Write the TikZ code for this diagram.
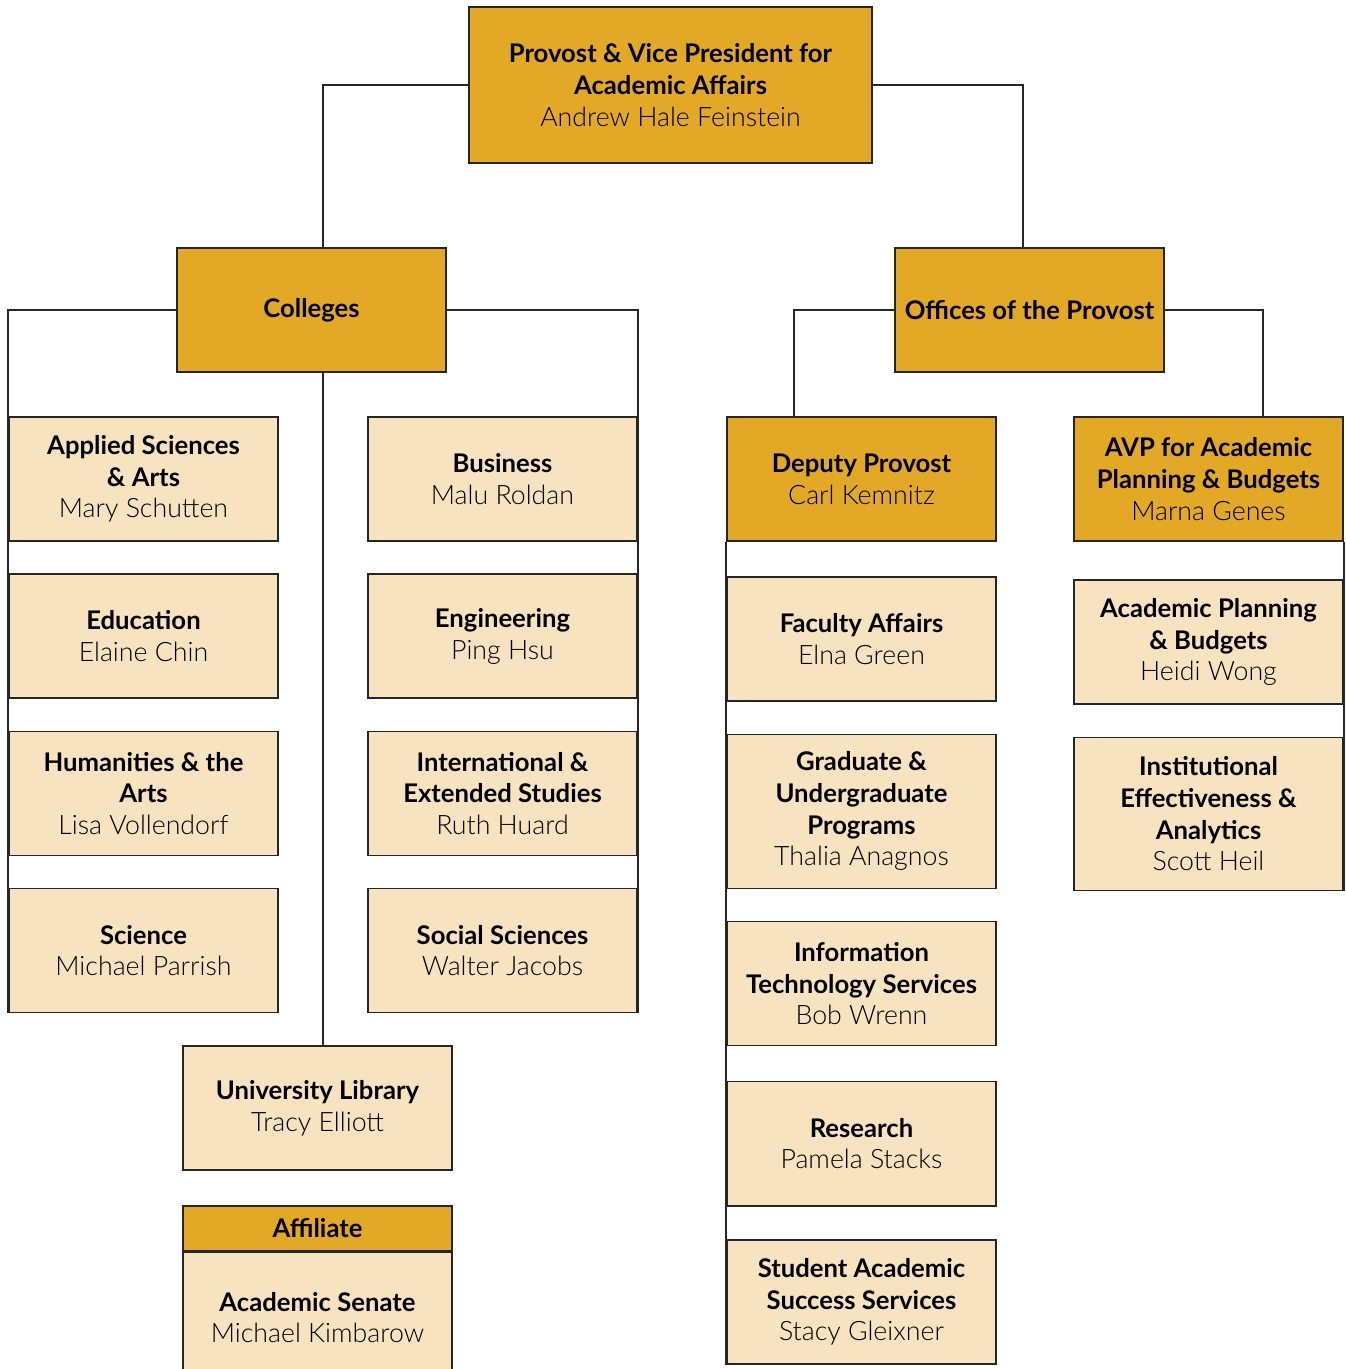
\documentclass[tikz,border=0pt]{standalone}
\usepackage{fontspec}
\setmainfont{Lato}
\newfontfamily\namefont{Lato Light}
\usepackage{xcolor}
\usetikzlibrary{positioning}

\definecolor{gold}{HTML}{E3A826}
\definecolor{cream}{HTML}{F7E3BF}
\newcommand{\person}[1]{{\mdseries\namefont\fontsize{7.6}{9}\selectfont #1}}

\begin{document}
\begin{tikzpicture}[
    x=0.01cm, y=-0.01cm,
    unit/.style={rectangle, draw=black!85, line width=0.45pt, minimum width=2.69cm, minimum height=1.24cm, inner sep=0pt, align=center, font=\fontsize{7.3}{9}\selectfont\bfseries},
    head/.style={unit, fill=gold},
    office/.style={unit, fill=cream},
    link/.style={draw=black!85, line width=0.45pt}
]
\useasboundingbox (0,0) rectangle (1346,1369);

% top of the chart
\node[head, minimum width=4.03cm, minimum height=1.56cm] (provost) at (670.5,85) {Provost \& Vice President for\\Academic Affairs\\\person{Andrew Hale Feinstein}};

\node[head] (colleges) at (311.5,310) {Colleges};
\node[head] (offices) at (1029.5,310) {Offices of the Provost};

% Colleges, left column
\node[office] (appsci) at (143.5,479) {Applied Sciences\\\& Arts\\\person{Mary Schutten}};
\node[office, below=0.315cm of appsci] (educ) {Education\\\person{Elaine Chin}};
\node[office, below=0.315cm of educ] (humart) {Humanities \& the\\Arts\\\person{Lisa Vollendorf}};
\node[office, below=0.315cm of humart] (science) {Science\\\person{Michael Parrish}};

% Colleges, right column
\node[office] (business) at (502.5,479) {Business\\\person{Malu Roldan}};
\node[office, below=0.315cm of business] (engin) {Engineering\\\person{Ping Hsu}};
\node[office, below=0.315cm of engin] (intext) {International \&\\Extended Studies\\\person{Ruth Huard}};
\node[office, below=0.315cm of intext] (socsci) {Social Sciences\\\person{Walter Jacobs}};

\node[office] (library) at (317.5,1108) {University Library\\\person{Tracy Elliott}};

% Affiliate
\node[head, minimum height=0.45cm] (affil) at (317.5,1228.5) {Affiliate};
\node[office, minimum height=1.30cm, below=0pt of affil] (senate) {Academic Senate\\\person{Michael Kimbarow}};

% Offices of the Provost
\node[head] (deputy) at (861.5,479) {Deputy Provost\\\person{Carl Kemnitz}};
\node[office, below=0.345cm of deputy] (faculty) {Faculty Affairs\\\person{Elna Green}};
\node[office, minimum height=1.54cm, below=0.315cm of faculty] (gradprog) {Graduate \&\\Undergraduate\\Programs\\\person{Thalia Anagnos}};
\node[office, below=0.315cm of gradprog] (infotech) {Information\\Technology Services\\\person{Bob Wrenn}};
\node[office, below=0.345cm of infotech] (research) {Research\\\person{Pamela Stacks}};
\node[office, below=0.325cm of research] (success) {Student Academic\\Success Services\\\person{Stacy Gleixner}};

\node[head] (avp) at (1208.5,479) {AVP for Academic\\Planning \& Budgets\\\person{Marna Genes}};
\node[office, below=0.375cm of avp] (planning) {Academic Planning\\\& Budgets\\\person{Heidi Wong}};
\node[office, minimum height=1.53cm, below=0.315cm of planning] (analytics) {Institutional\\Effectiveness \&\\Analytics\\\person{Scott Heil}};

% Connecting lines
\draw[link] (provost.west) -| ([xshift=0.115cm]colleges.north);
\draw[link] (provost.east) -| ([xshift=-0.065cm]offices.north);
\draw[link] (colleges.west) -| (science.south west);
\draw[link] (colleges.east) -| (socsci.south east);
\draw[link] ([xshift=0.115cm]colleges.south) -- ([xshift=0.115cm]colleges.south |- library.north);
\draw[link] (offices.west) -| ([xshift=-0.675cm]deputy.north);
\draw[link] (offices.east) -| ([xshift=0.545cm]avp.north);
\draw[link] (deputy.south west) -- (success.south west);
\draw[link] (avp.south east) -- (analytics.south east);

\end{tikzpicture}
\end{document}
